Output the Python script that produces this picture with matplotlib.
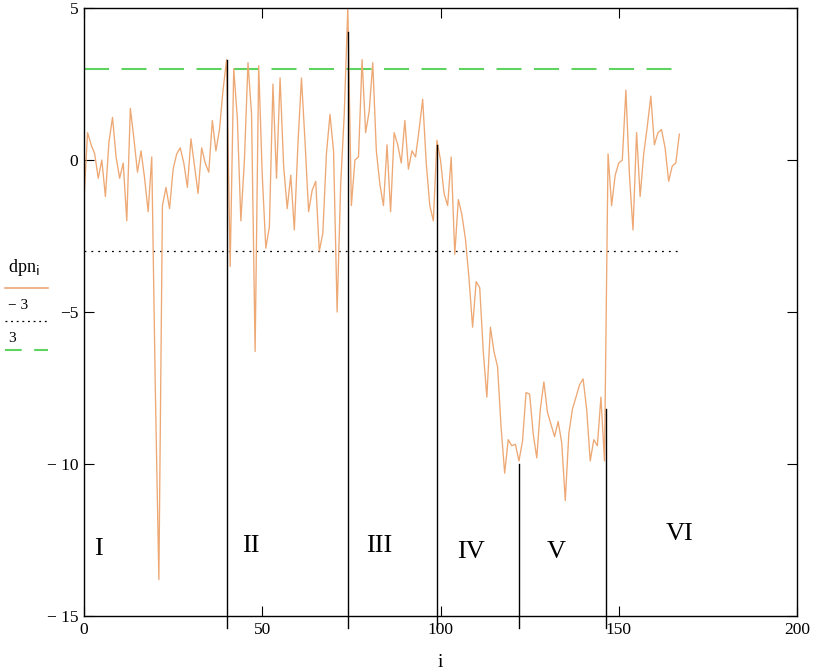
import numpy as np
import matplotlib.pyplot as plt
from matplotlib.lines import Line2D

plt.rcParams['font.family'] = ['Liberation Serif', 'DejaVu Serif']

# dpn_i, i = 0..167
dpn = [-1.3, 0.9, 0.5, 0.2, -0.6, 0.0, -1.2, 0.6, 1.4, 0.1,
       -0.6, -0.1, -2.0, 1.7, 0.7, -0.4, 0.3, -0.6, -1.7, 0.1,
       -7.5, -13.8, -1.5, -0.9, -1.6, -0.3, 0.2, 0.4, -0.1, -0.9,
       0.7, -0.2, -1.1, 0.4, -0.1, -0.4, 1.3, 0.3, 1.0, 2.3,
       3.3, -3.5, 3.0, 1.4, -2.0, 0.0, 3.2, 1.5, -6.3, 3.1,
       -0.5, -2.9, -2.2, 2.5, -0.6, 2.7, -0.2, -1.6, -0.5, -2.3,
       0.5, 2.7, 0.6, -1.7, -1.0, -0.7, -3.0, -2.4, 0.2, 1.5,
       0.3, -5.0, -0.8, 1.5, 5.0, -1.5, 0.0, 0.1, 3.3, 0.9,
       1.6, 3.2, 0.3, -0.8, -1.5, 0.5, -1.7, 0.9, 0.5, -0.1,
       1.3, -0.3, 0.3, 0.1, 1.0, 2.0, -0.1, -1.5, -2.0, 0.65,
       0.0, -1.1, -1.5, 0.1, -3.1, -1.3, -1.8, -2.6, -3.9, -5.5,
       -4.0, -4.2, -6.3, -7.8, -5.5, -6.3, -6.8, -8.8, -10.3, -9.2,
       -9.4, -9.35, -9.9, -9.25, -7.65, -7.7, -9.0, -9.8, -8.2, -7.3,
       -8.3, -8.7, -9.1, -8.6, -9.3, -11.2, -9.0, -8.2, -7.8, -7.4,
       -7.2, -8.2, -9.9, -9.2, -9.4, -7.8, -9.9, 0.2, -1.5, -0.5,
       -0.1, 0.0, 2.3, -0.5, -2.3, 0.9, -1.2, 0.2, 1.1, 2.1,
       0.5, 0.9, 1.0, 0.4, -0.7, -0.2, -0.1, 0.85]

# boundaries between the stages and the height each marker reaches
bound_x = [40, 74, 99, 122, 146.5]
bound_top = [3.3, 4.2, 0.5, -10.0, -8.2]

stage_names = ['I', 'II', 'III', 'IV', 'V', 'VI']
stage_x = [2.8, 46.8, 82.7, 108.6, 132.4, 167.2]
stage_y = [-12.8, -12.7, -12.7, -12.9, -12.9, -12.3]
stage_ha = ['left', 'center', 'center', 'center', 'center', 'center']

xticks = [0, 50, 100, 150, 200]
yticks = [5, 0, -5, -10, -15]
ylabels = ['5', '0', '\u22125', '\u2212 10', '\u2212 15']

orange = '#eda874'
green = '#5fd35f'

fig = plt.figure(figsize=(8.16, 6.72), dpi=100)
ax = fig.add_axes([84/816, 56/672, 713/816, 608/672])

i = np.arange(len(dpn))
ax.plot([0, i[-1]], [-3, -3], color='black', lw=0.9, ls=(0, (1.5, 4)))
ax.plot([0, i[-1]], [3, 3], color=green, lw=1.5, ls=(0, (12, 6)))
ax.plot(i, dpn, color=orange, lw=0.95)

for bx, bt in zip(bound_x, bound_top):
    ax.plot([bx, bx], [-15.4, bt], color='black', lw=1.0, clip_on=False)

for name, sx, sy, ha in zip(stage_names, stage_x, stage_y, stage_ha):
    ax.text(sx, sy, name, fontsize=19, ha=ha, va='center')

ax.set_xlim(0, 200)
ax.set_ylim(-15, 5)
ax.set_xticks(xticks)
ax.set_xticklabels([str(t) for t in xticks], fontsize=12.5)
ax.set_yticks(yticks)
ax.set_yticklabels(ylabels, fontsize=12.5)
ax.tick_params(direction='in', length=7, top=True, right=True, pad=4)
for s in ax.spines.values():
    s.set_linewidth(1.0)
ax.set_xlabel('i', fontsize=14, labelpad=12)

# legend drawn to the left of the plot area, Mathcad style
fig.text(8/816, 1 - 267/672, 'dpn$_\\mathrm{i}$', fontsize=13, va='center')
fig.add_artist(Line2D([5/816, 48/816], [1 - 288/672] * 2, color=orange, lw=1.2))
fig.text(8/816, 1 - 306/672, '\u2212 3', fontsize=11, va='center')
fig.add_artist(Line2D([5/816, 48/816], [1 - 321/672] * 2, color='black', lw=0.9, ls=(0, (1.5, 3))))
fig.text(8/816, 1 - 338/672, '3', fontsize=11, va='center')
fig.add_artist(Line2D([5/816, 48/816], [1 - 350/672] * 2, color=green, lw=1.5, ls=(0, (8, 6))))

fig.savefig('out.png', dpi=100)
